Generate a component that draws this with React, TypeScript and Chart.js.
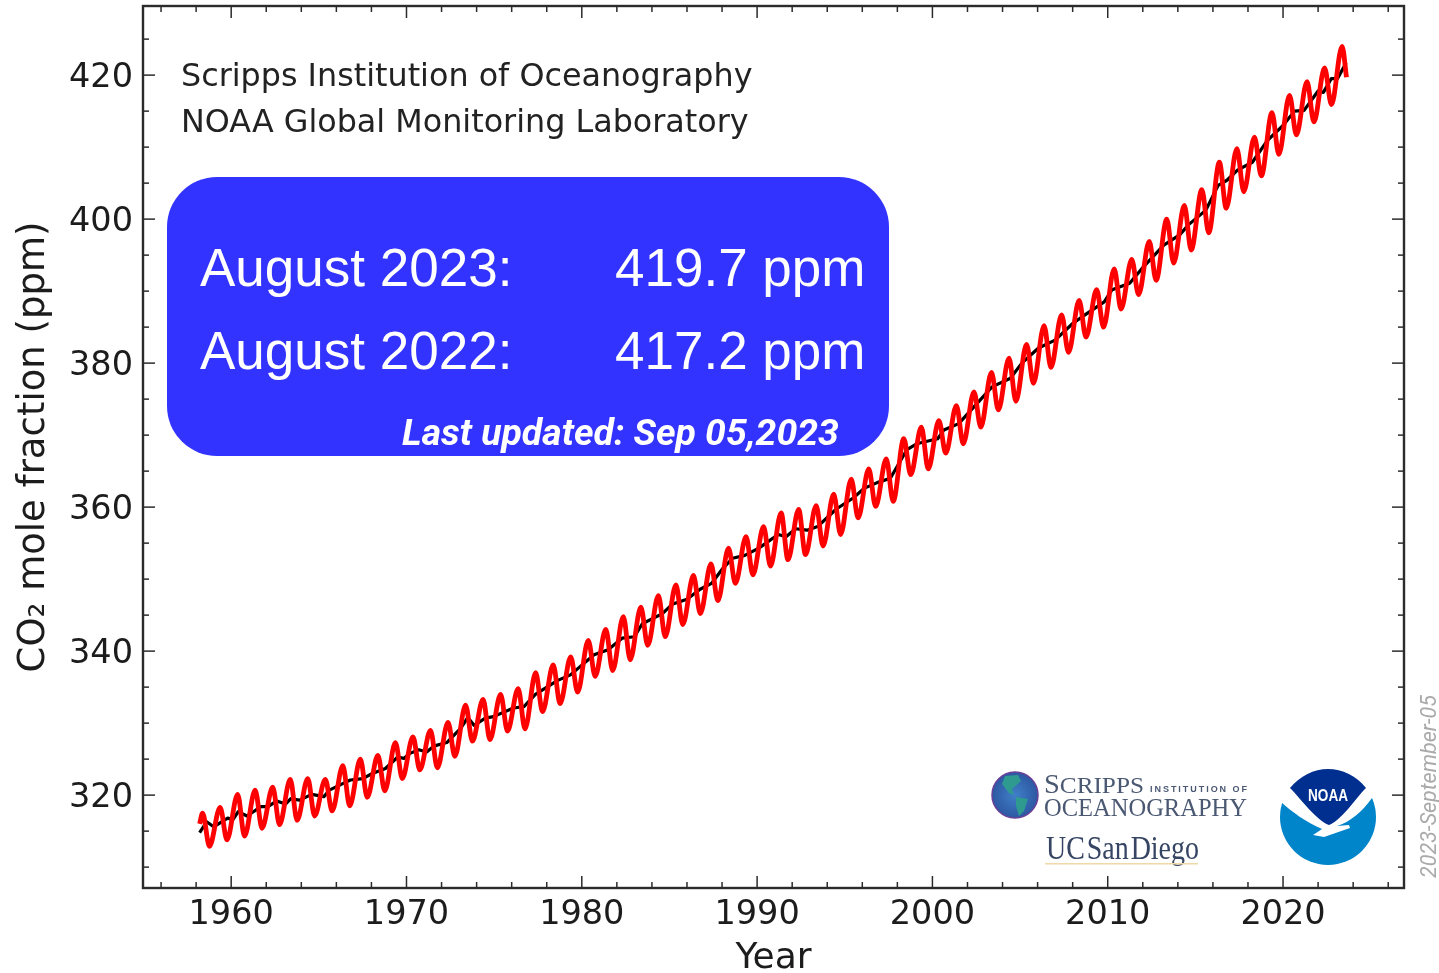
import React, { useEffect, useRef } from "react";
import { Chart, registerables } from "chart.js";

Chart.register(...registerables);

// Seasonal maxima (about May) and minima (about October) of the monthly mean, one per year from 1958
const firstYear = 1958;
const seasonalPeaks = [
  317.5, 318.3, 320.1, 320.7, 321.1, 322.2, 322.3, 322.2, 324.1, 325.0,
  325.5, 327.3, 328.1, 329.0, 330.1, 332.5, 333.3, 334.0, 334.8, 337.0,
  338.1, 339.2, 341.5, 343.0, 344.8, 346.1, 347.7, 349.2, 350.5, 352.1,
  354.3, 355.9, 357.3, 359.2, 359.7, 360.2, 361.8, 363.9, 365.3, 366.7,
  369.5, 371.1, 372.0, 374.1, 376.0, 378.7, 380.7, 382.6, 385.2, 386.7,
  388.7, 390.2, 393.1, 394.4, 396.9, 400.0, 401.9, 404.1, 407.9, 409.8,
  411.4, 414.8, 417.2, 419.1, 421.0, 424.0,
];
const seasonalTroughs = [
  312.9, 313.8, 314.3, 315.4, 315.9, 316.5, 317.1, 317.8, 318.5, 319.7,
  320.6, 322.3, 323.5, 323.8, 325.4, 327.5, 327.7, 328.9, 329.2, 331.6,
  332.7, 334.3, 336.5, 337.3, 338.8, 340.8, 342.0, 343.7, 345.2, 347.0,
  349.4, 350.6, 351.8, 352.7, 353.4, 354.6, 356.2, 358.5, 360.1, 360.8,
  364.5, 365.3, 367.5, 368.8, 371.1, 373.5, 374.7, 377.2, 379.4, 381.5,
  383.6, 385.0, 387.5, 389.5, 391.5, 393.9, 395.7, 398.1, 401.5, 403.8,
  406.0, 409.0, 411.7, 413.5, 415.9,
];
const firstValue = [1958.2, 316.0];
const lastValue = [2023.62, 419.7];

// Deseasonalised trend
const trendYears = [
  1958.2, 1958.6, 1959.0, 1959.8, 1960.1, 1960.4, 1960.9, 1961.7, 1962.1, 1962.6,
  1963.1, 1963.4, 1963.9, 1964.6, 1965.3, 1965.6, 1966.45, 1966.8, 1967.5, 1968.05,
  1968.8, 1969.5, 1969.85, 1970.2, 1970.7, 1971.15, 1971.55, 1972.3, 1973.1, 1973.5,
  1973.85, 1974.5, 1974.96, 1976.1, 1976.7, 1977.35, 1978.6, 1979.35, 1980.7, 1981.5,
  1982.3, 1983.0, 1983.45, 1984.6, 1985.15, 1986.0, 1986.75, 1987.4, 1988.05, 1988.6,
  1989.3, 1990.1, 1991.2, 1991.65, 1992.2, 1992.85, 1993.45, 1994.5, 1995.5, 1996.1,
  1996.85, 1997.6, 1998.55, 1999.1, 2000.3, 2000.65, 2001.5, 2002.55, 2003.4, 2004.45,
  2005.1, 2006.05, 2007.0, 2008.0, 2008.7, 2009.8, 2010.25, 2011.25, 2012.05, 2013.2,
  2014.1, 2014.6, 2015.6, 2016.3, 2016.8, 2017.4, 2018.25, 2019.1, 2020.0, 2020.65,
  2021.2, 2022.0, 2022.3, 2022.75, 2023.1, 2023.6,
];
const trendValues = [
  314.8, 316.3, 315.6, 316.8, 316.6, 317.7, 317.1, 318.4, 318.4, 319.2,
  318.75, 319.5, 319.3, 320.1, 319.8, 320.7, 321.7, 322.1, 322.3, 323.0,
  323.7, 325.3, 325.1, 325.8, 326.3, 326.0, 326.8, 327.3, 329.3, 330.8,
  329.7, 330.7, 330.9, 332.1, 332.3, 334.0, 335.9, 336.7, 339.5, 340.2,
  341.8, 342.0, 343.8, 345.2, 346.5, 347.2, 348.6, 349.4, 351.5, 352.9,
  353.3, 354.3, 356.2, 355.9, 357.0, 356.8, 357.3, 359.7, 361.3, 362.6,
  363.4, 364.0, 368.0, 368.8, 369.5, 370.7, 371.6, 374.4, 376.7, 377.9,
  380.0, 382.1, 383.2, 385.5, 386.7, 388.5, 390.2, 391.1, 393.4, 396.4,
  397.8, 399.2, 401.25, 404.7, 405.4, 406.8, 407.9, 410.9, 413.0, 415.0,
  415.1, 417.8, 417.6, 419.5, 419.5, 421.7,
];

const xRange = [1954.97, 2026.9];
const yRange = [307.1, 429.6];
const xMajorStep = 10;
const xMinorStep = 2;
const yMajorStep = 20;
const yMinorStep = 5;

const creditLines = ["Scripps Institution of Oceanography", "NOAA Global Monitoring Laboratory"];
const boxRows = [
  ["August 2023:", "419.7 ppm"],
  ["August 2022:", "417.2 ppm"],
];
const updatedText = "Last updated: Sep 05,2023";
const stampText = "2023-September-05";

const seasonalPoints = () => {
  const pts: { x: number; y: number }[] = [{ x: firstValue[0], y: firstValue[1] }];
  seasonalPeaks.forEach((p, i) => {
    pts.push({ x: firstYear + i + 0.37, y: p });
    if (i < seasonalTroughs.length) pts.push({ x: firstYear + i + 0.76, y: seasonalTroughs[i] });
  });
  pts.push({ x: lastValue[0], y: lastValue[1] });
  return pts;
};

const frameAndTicks = {
  id: "frameAndTicks",
  afterDatasetsDraw(chart: any) {
    const { ctx, chartArea: a, scales } = chart;
    const ink = "#2b2b2b";
    ctx.save();
    ctx.strokeStyle = ink;
    ctx.lineCap = "butt";
    const seg = (x1: number, y1: number, x2: number, y2: number, w: number) => {
      ctx.lineWidth = w;
      ctx.beginPath();
      ctx.moveTo(x1, y1);
      ctx.lineTo(x2, y2);
      ctx.stroke();
    };
    for (let v = Math.ceil(xRange[0] / xMinorStep) * xMinorStep; v <= xRange[1]; v += xMinorStep) {
      const px = scales.x.getPixelForValue(v);
      const len = v % xMajorStep === 0 ? 12 : 6;
      seg(px, a.bottom, px, a.bottom - len, 1.5);
      seg(px, a.top, px, a.top + len, 1.5);
    }
    for (let v = Math.ceil(yRange[0] / yMinorStep) * yMinorStep; v <= yRange[1]; v += yMinorStep) {
      const py = scales.y.getPixelForValue(v);
      const len = v % yMajorStep === 0 ? 12 : 6;
      seg(a.left, py, a.left + len, py, 1.5);
      seg(a.right, py, a.right - len, py, 1.5);
    }
    ctx.lineWidth = 2.4;
    ctx.strokeRect(a.left, a.top, a.right - a.left, a.bottom - a.top);
    ctx.fillStyle = "#222";
    ctx.font = '31.8px "DejaVu Sans"';
    ctx.textBaseline = "alphabetic";
    ctx.fillText(creditLines[0], 181, 86);
    ctx.fillText(creditLines[1], 181, 132);
    ctx.restore();
  },
};

const box: React.CSSProperties = {
  position: "absolute",
  left: 167,
  top: 177,
  width: 722,
  height: 279,
  borderRadius: 50,
  background: "#3333ff",
  color: "#fff",
};

const cell = (left: number, top: number): React.CSSProperties => ({
  position: "absolute",
  left,
  top,
  font: '53px "Liberation Sans"',
  lineHeight: "60px",
  whiteSpace: "nowrap",
});

function Logos() {
  return (
    <svg width={1439} height={973} style={{ position: "absolute", left: 0, top: 0, pointerEvents: "none", filter: "blur(0.5px)" }}>
      <defs>
        <radialGradient id="g" cx="50%" cy="50%" r="60%">
          <stop offset="0%" stopColor="#3f80c8" />
          <stop offset="100%" stopColor="#2a4f9a" />
        </radialGradient>
      </defs>
      <circle cx={1015} cy={795} r={23} fill="url(#g)" stroke="#6a3f98" strokeWidth={1.5} />
      <path d="M1005 776 L1018 775 L1021 781 L1012 789 L1014 795 L1009 793 L1002 784 Z" fill="#2e9a90" />
      <path d="M1016 797 L1028 799 L1024 811 L1019 816 L1016 806 Z" fill="#2e9a90" />
      <g fill="#4a5872" fontFamily="Liberation Serif">
        <text x={1044} y={793} fontSize={27} textLength={100} lengthAdjust="spacingAndGlyphs">
          S<tspan fontSize={24}>CRIPPS</tspan>
        </text>
        <text x={1150} y={792} fontSize={9} fontFamily="Liberation Sans" fontWeight={700} textLength={97}>INSTITUTION OF</text>
        <text x={1044} y={816} fontSize={25} textLength={203} lengthAdjust="spacingAndGlyphs">OCEANOGRAPHY</text>
        <text x={1046} y={859} fontSize={33} fill="#364563" wordSpacing={-6} textLength={153} lengthAdjust="spacingAndGlyphs">UC San Diego</text>
      </g>
      <rect x={1045} y={863} width={153} height={1.5} fill="#efd9a6" />
      <circle cx={1328} cy={817} r={48} fill="#0085ca" />
      <path d="M1270 762 L1386 762 L1386 796 L1372 798 C1362 812 1350 822 1337 826 L1349 825 L1350 828 L1324 837 L1313 835 L1322 829 C1306 822 1292 812 1281 802 L1270 796 Z" fill="#fff" />
      <path d="M1290 788 C1300 776 1314 769 1328 769 C1342 769 1357 776 1366 788 C1354 800 1342 820 1329 825 C1316 820 1302 800 1290 788 Z" fill="#002f8f" />
      <text x={1328} y={801} fill="#fff" fontFamily="Liberation Sans" fontWeight={700} fontSize={16} textAnchor="middle" textLength={40} lengthAdjust="spacingAndGlyphs">NOAA</text>
    </svg>
  );
}

export default function App() {
  const ref = useRef<HTMLCanvasElement>(null);

  useEffect(() => {
    const chart = new Chart(ref.current as HTMLCanvasElement, {
      type: "line",
      data: {
        datasets: [
          {
            label: "Monthly mean",
            data: seasonalPoints(),
            borderColor: "#ff0000",
            borderWidth: 4.8,
            pointRadius: 0,
            cubicInterpolationMode: "monotone",
            borderJoinStyle: "round",
          },
          {
            label: "Trend",
            data: trendYears.map((x, i) => ({ x, y: trendValues[i] })),
            borderColor: "#000",
            borderWidth: 3.2,
            pointRadius: 0,
            tension: 0,
            borderJoinStyle: "round",
          },
        ],
      } as any,
      options: {
        animation: false,
        responsive: false,
        layout: { padding: { top: 6, right: 35, left: 0, bottom: 0 } },
        plugins: { legend: { display: false }, title: { display: false }, tooltip: { enabled: false } },
        scales: {
          x: {
            type: "linear",
            min: xRange[0],
            max: xRange[1],
            afterFit: (s: any) => { s.height = 85; s.paddingLeft = 0; s.paddingRight = 0; },
            border: { display: false },
            grid: { display: false, drawTicks: false },
            ticks: {
              stepSize: xMajorStep,
              includeBounds: false,
              autoSkip: false,
              maxRotation: 0,
              padding: 7,
              color: "#1c1c1c",
              font: { family: "DejaVu Sans", size: 33.5 },
              callback: (v: any) => String(v),
            },
            title: {
              display: true,
              text: "Year",
              color: "#1c1c1c",
              font: { family: "DejaVu Sans", size: 36, lineHeight: 1 },
              padding: { top: 0, bottom: -4 },
            },
          },
          y: {
            type: "linear",
            min: yRange[0],
            max: yRange[1],
            afterFit: (s: any) => { s.width = 143; s.paddingTop = 0; s.paddingBottom = 0; },
            border: { display: false },
            grid: { display: false, drawTicks: false },
            ticks: {
              stepSize: yMajorStep,
              includeBounds: false,
              autoSkip: false,
              padding: 10,
              labelOffset: 3,
              color: "#1c1c1c",
              font: { family: "DejaVu Sans", size: 33.5 },
              callback: (v: any) => String(v),
            },
            title: {
              display: true,
              text: "CO₂ mole fraction (ppm)",
              color: "#1c1c1c",
              font: { family: "DejaVu Sans", size: 37, lineHeight: 1 },
              padding: { top: 16, bottom: 0 },
            },
          },
        },
      } as any,
      plugins: [frameAndTicks],
    });
    return () => chart.destroy();
  }, []);

  return (
    <div style={{ position: "absolute", left: 0, top: 0, width: 1439, height: 973, background: "#fff", overflow: "hidden" }}>
      <canvas ref={ref} width={1439} height={973} style={{ position: "absolute", left: 0, top: 0, display: "block", filter: "blur(0.6px)" }} />
      <div style={box}>
        {boxRows.map((row, i) => (
          <React.Fragment key={i}>
            <div style={cell(33, 61 + i * 83)}>{row[0]}</div>
            <div style={cell(448, 61 + i * 83)}>{row[1]}</div>
          </React.Fragment>
        ))}
        <div
          style={{
            position: "absolute",
            left: 235,
            top: 233,
            font: 'italic 700 37.4px Roboto',
            lineHeight: "44px",
            whiteSpace: "nowrap",
          }}
        >
          {updatedText}
        </div>
      </div>
      <div
        style={{
          position: "absolute",
          left: 1428,
          top: 878,
          font: 'italic 21.5px Roboto',
          color: "#aaa",
          whiteSpace: "nowrap",
          transformOrigin: "0 0",
          transform: "rotate(-90deg) translateY(-50%)",
        }}
      >
        {stampText}
      </div>
      <Logos />
    </div>
  );
}
